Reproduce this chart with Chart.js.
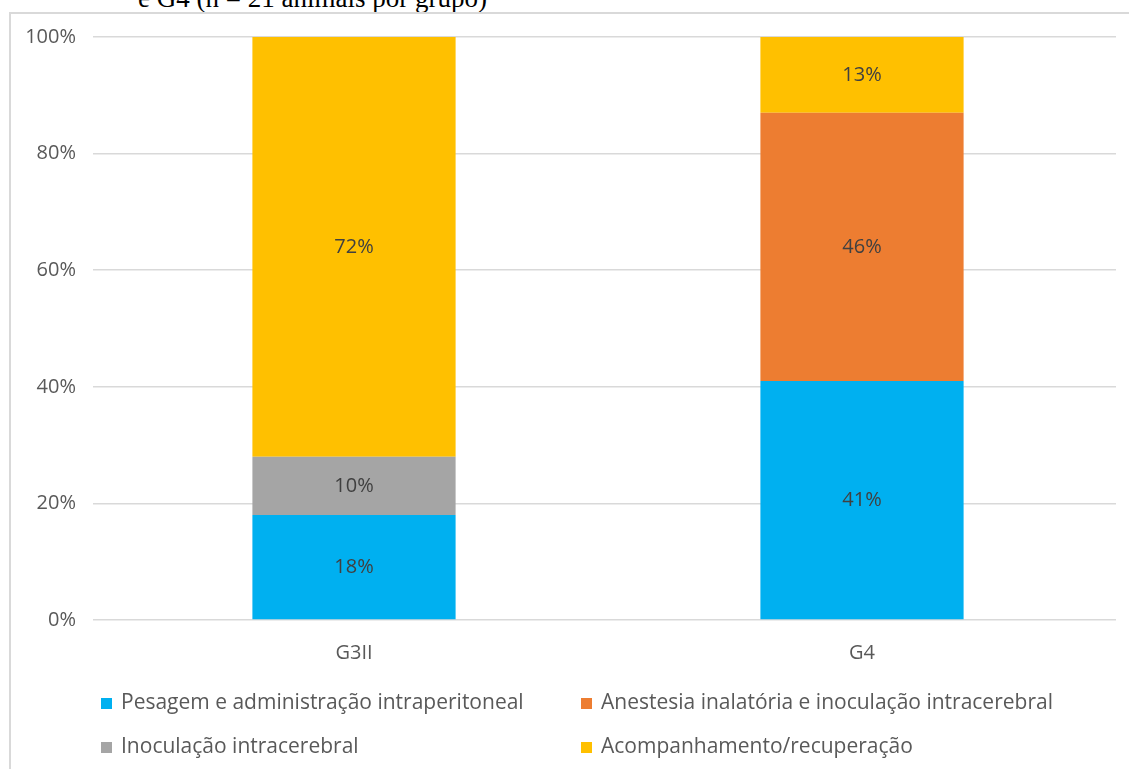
<!DOCTYPE html>
<html>
<head>
<meta charset="utf-8">
<script src="https://cdn.jsdelivr.net/npm/chart.js@4"></script>
<style>
  html, body { margin: 0; padding: 0; background: #fff; }
  body { width: 1129px; height: 769px; position: relative; overflow: hidden; }
  .caption {
    position: absolute; left: 138px; top: -17px;
    font-family: "Liberation Serif", "Times New Roman", serif;
    font-size: 27px; color: #000; white-space: nowrap;
  }
  .frame {
    position: absolute; left: 9px; top: 12px; right: -2px; bottom: -2px;
    border-left: 2px solid #d9d9d9; border-top: 2px solid #d9d9d9;
  }
  #chart { position: absolute; left: 0; top: 0; }
  .legend { position: absolute; left: 0; top: 0; font-family: "Open Sans", sans-serif; font-size: 21px; color: #595959; }
  .legend .item { position: absolute; white-space: nowrap; line-height: 24px; }
  .legend .box { display: inline-block; width: 11px; height: 11px; margin-right: 9px; vertical-align: 0px; }
</style>
</head>
<body>
<div class="caption">e G4 (n = 21 animais por grupo)</div>
<div class="frame"></div>
<canvas id="chart" width="1129" height="769"></canvas>
<div class="legend" id="legend"></div>
<script>
//data
const groups = ["G3II", "G4"];
const seriesNames = [
  "Pesagem e administração intraperitoneal",
  "Anestesia inalatória e inoculação intracerebral",
  "Inoculação intracerebral",
  "Acompanhamento/recuperação"
];
const pesagem = [18, 41];
const anestesia = [0, 46];
const inoculacao = [10, 0];
const acompanhamento = [72, 13];
const yTicks = [0, 20, 40, 60, 80, 100];

const colors = ["#00B0F0", "#ED7D31", "#A5A5A5", "#FFC000"];
const values = [pesagem, anestesia, inoculacao, acompanhamento];

const font = "'Open Sans', sans-serif";

//percent labels in the middle of each segment
const segmentLabels = {
  id: "segmentLabels",
  afterDatasetsDraw(chart) {
    const ctx = chart.ctx;
    ctx.save();
    ctx.font = "20px " + font;
    ctx.fillStyle = "#404040";
    ctx.textAlign = "center";
    ctx.textBaseline = "middle";
    chart.data.datasets.forEach((ds, i) => {
      chart.getDatasetMeta(i).data.forEach((bar, j) => {
        const v = ds.data[j];
        if (!v) return;
        ctx.fillText(v + "%", bar.x, (bar.y + bar.base) / 2);
      });
    });
    ctx.restore();
  }
};

new Chart(document.getElementById("chart"), {
  type: "bar",
  data: {
    labels: groups,
    datasets: seriesNames.map((name, i) => ({
      label: name,
      data: values[i],
      backgroundColor: colors[i],
      borderWidth: 0,
      categoryPercentage: 1,
      barPercentage: 0.4
    }))
  },
  options: {
    responsive: false,
    animation: false,
    layout: { padding: { left: 0, top: 37, right: 13, bottom: 0 } },
    plugins: {
      legend: { display: false },
      tooltip: { enabled: false }
    },
    scales: {
      x: {
        stacked: true,
        grid: { display: false },
        border: { display: false },
        ticks: { color: "#595959", font: { family: font, size: 20 }, padding: 13 },
        afterFit(scale) { scale.height = 149; }
      },
      y: {
        stacked: true,
        min: 0,
        max: 100,
        afterBuildTicks(scale) { scale.ticks = yTicks.map(v => ({ value: v })); },
        grid: { color: "#d9d9d9", lineWidth: 1.5, tickLength: 7, tickColor: "#d9d9d9" },
        border: { display: false },
        ticks: {
          color: "#595959",
          font: { family: font, size: 20 },
          padding: 17,
          callback: v => v + "%"
        },
        afterFit(scale) { scale.width = 100; }
      }
    }
  },
  plugins: [segmentLabels]
});

//legend in two columns
const legendPos = [[101, 689], [581, 689], [101, 733], [581, 733]];
const legendEl = document.getElementById("legend");
seriesNames.forEach((name, i) => {
  const item = document.createElement("div");
  item.className = "item";
  item.style.left = legendPos[i][0] + "px";
  item.style.top = legendPos[i][1] + "px";
  item.innerHTML = '<span class="box" style="background:' + colors[i] + '"></span>' + name;
  legendEl.appendChild(item);
});
</script>
</body>
</html>
